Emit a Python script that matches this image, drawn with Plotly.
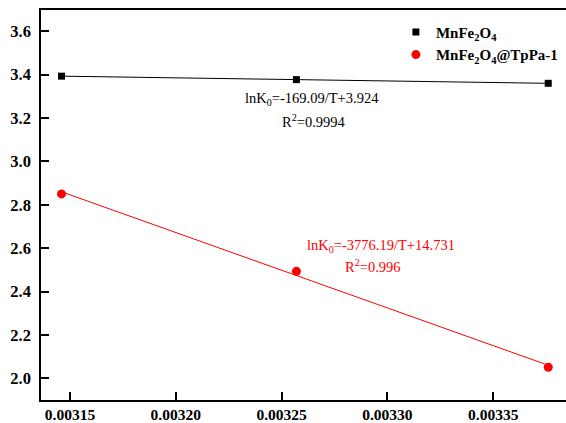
import numpy as np
import plotly.graph_objects as go

inv_T = [0.003146, 0.003257, 0.003376]
lnK_mnfe = [3.393, 3.377, 3.360]
lnK_tppa = [2.850, 2.493, 2.051]
x_ticks = [0.00315, 0.00320, 0.00325, 0.00330, 0.00335]
x_tick_labels = ["0.00315", "0.00320", "0.00325", "0.00330", "0.00335"]
y_ticks = [2.0, 2.2, 2.4, 2.6, 2.8, 3.0, 3.2, 3.4, 3.6]

font_fam = "Liberation Serif, Times New Roman, serif"

fig = go.Figure()

# fit lines (linear regression on the data)
xfit = np.array([inv_T[0], inv_T[-1]])
for ys, col in [(lnK_mnfe, "black"), (lnK_tppa, "red")]:
    m, b = np.polyfit(inv_T, ys, 1)
    fig.add_trace(go.Scatter(x=xfit, y=m * xfit + b, mode="lines",
                             line=dict(color=col, width=1), showlegend=False,
                             hoverinfo="skip"))

fig.add_trace(go.Scatter(x=inv_T, y=lnK_mnfe, mode="markers",
                         name="MnFe<sub>2</sub>O<sub>4</sub>",
                         marker=dict(symbol="square", size=7, color="black")))
fig.add_trace(go.Scatter(x=inv_T, y=lnK_tppa, mode="markers",
                         name="MnFe<sub>2</sub>O<sub>4</sub>@TpPa-1",
                         marker=dict(symbol="circle", size=9, color="red")))

fig.add_annotation(x=0.0032642, y=3.29, xref="x", yref="y",
                   text="lnK<sub>0</sub>=-169.09/T+3.924", showarrow=False,
                   font=dict(family=font_fam, size=14.5, color="black"))
fig.add_annotation(x=0.0032652, y=3.185, xref="x", yref="y",
                   text="R<sup>2</sup>=0.9994", showarrow=False,
                   font=dict(family=font_fam, size=14.5, color="black"))
fig.add_annotation(x=0.0032972, y=2.612, xref="x", yref="y",
                   text="lnK<sub>0</sub>=-3776.19/T+14.731", showarrow=False,
                   font=dict(family=font_fam, size=14.5, color="red"))
fig.add_annotation(x=0.0032932, y=2.52, xref="x", yref="y",
                   text="R<sup>2</sup>=0.996", showarrow=False,
                   font=dict(family=font_fam, size=14.5, color="red"))

fig.update_layout(
    width=566, height=423,
    margin=dict(l=41, r=0, t=10, b=23),
    paper_bgcolor="white", plot_bgcolor="white",
    font=dict(family=font_fam, size=15, color="black"),
    legend=dict(x=0.676, y=0.985, xanchor="left", yanchor="top",
                bgcolor="rgba(0,0,0,0)", font=dict(family=font_fam, size=15, color="black", weight="bold"),
                itemwidth=30, tracegroupgap=4),
    xaxis=dict(range=[0.0031363, 0.0033844], tickvals=x_ticks, ticktext=x_tick_labels,
               showgrid=False, zeroline=False, showline=True, linecolor="black",
               linewidth=1.5, mirror=True, ticks="inside", ticklen=8, tickwidth=1.5,
               tickcolor="black",
               tickfont=dict(family=font_fam, size=15.5, weight="bold"),
               minor=dict(ticks="inside", ticklen=5, tickwidth=1, tickcolor="black", nticks=2)),
    yaxis=dict(range=[1.90, 3.698], tickvals=y_ticks, ticktext=[f"{v:.1f}" for v in y_ticks],
               showgrid=False, zeroline=False, showline=True, linecolor="black",
               linewidth=1.5, mirror=False, ticks="inside", ticklen=8, tickwidth=1.5,
               tickcolor="black", ticklabelstandoff=5,
               tickfont=dict(family=font_fam, size=16.5, weight="bold"),
               minor=dict(ticks="inside", ticklen=5, tickwidth=1, tickcolor="black", nticks=2)),
)

fig.write_html("out.html", config={"displayModeBar": False},
               post_script="document.body.style.margin='0';document.body.style.overflow='hidden';")
